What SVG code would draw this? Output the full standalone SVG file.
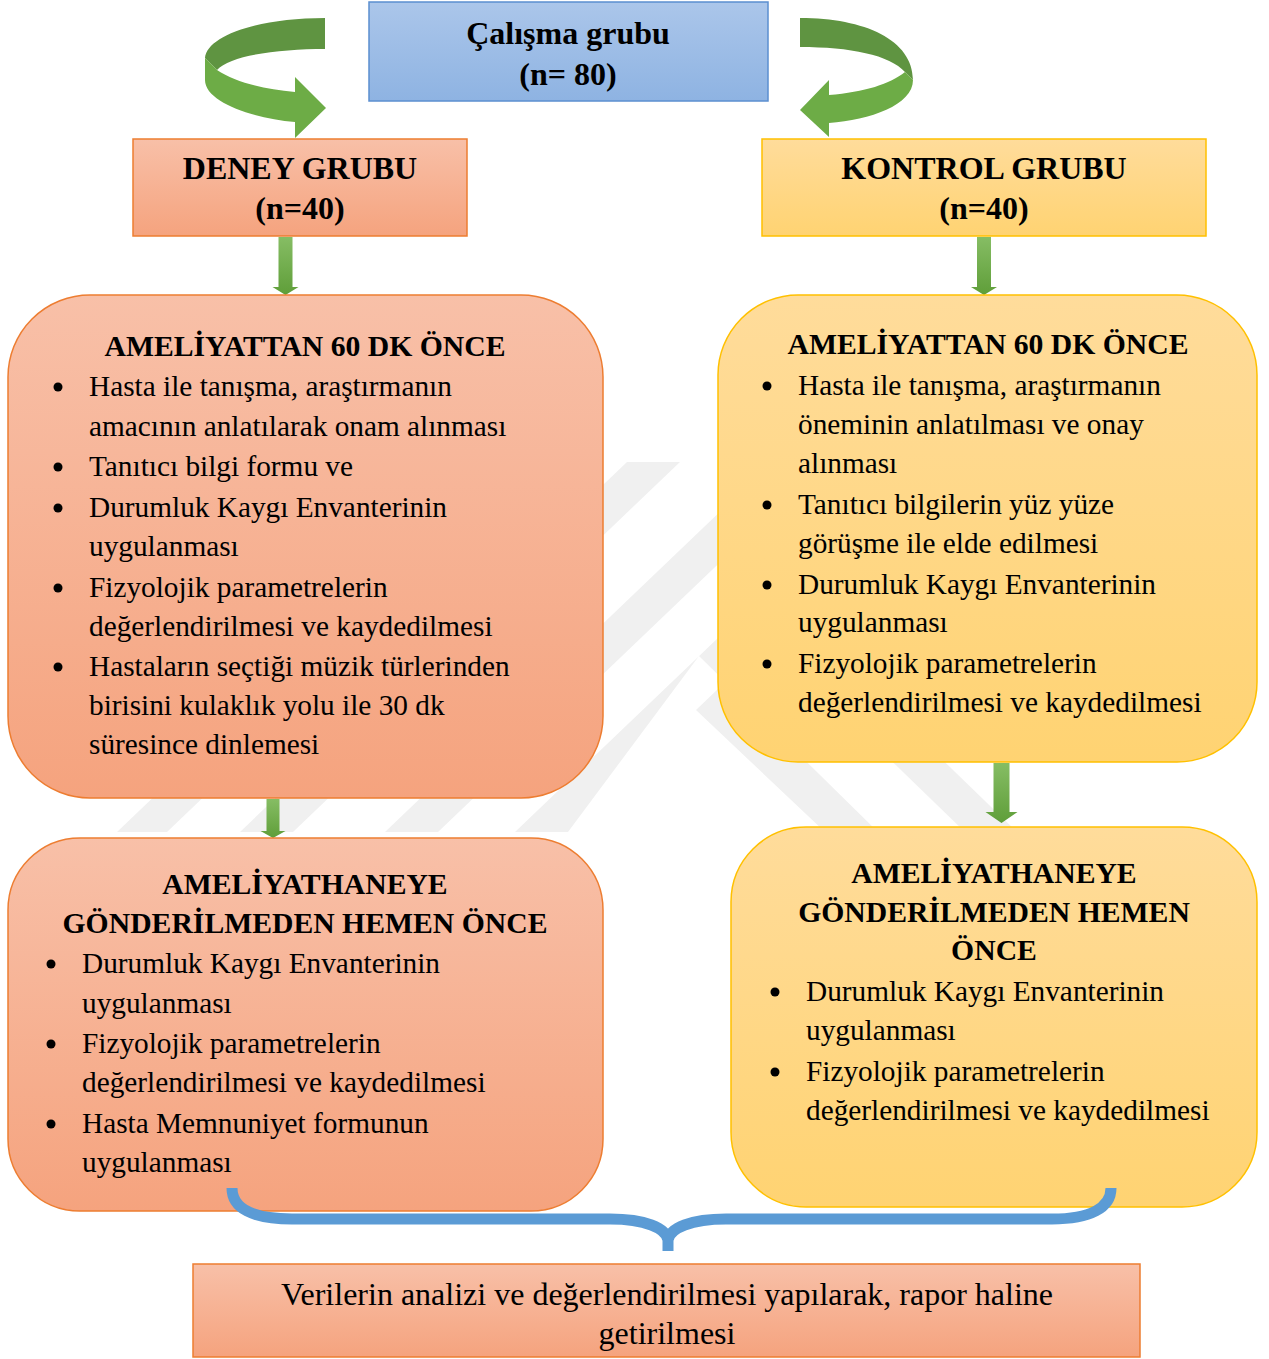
<svg xmlns="http://www.w3.org/2000/svg" width="1269" height="1359" viewBox="0 0 1269 1359">
<defs>
<linearGradient id="gSal" x1="0" y1="0" x2="0" y2="1"><stop offset="0" stop-color="#f8c0a8"/><stop offset="1" stop-color="#f5a37e"/></linearGradient>
<linearGradient id="gYel" x1="0" y1="0" x2="0" y2="1"><stop offset="0" stop-color="#ffdc9b"/><stop offset="1" stop-color="#ffd372"/></linearGradient>
<linearGradient id="gBlue" x1="0" y1="0" x2="0" y2="1"><stop offset="0" stop-color="#abc6ea"/><stop offset="1" stop-color="#8eb3e2"/></linearGradient>
<linearGradient id="gGreen" x1="0" y1="0" x2="0" y2="1"><stop offset="0" stop-color="#86bd64"/><stop offset="1" stop-color="#5f9e39"/></linearGradient>
<style>
.sal{fill:url(#gSal);stroke:#ed7d31;stroke-width:1.5}
.yel{fill:url(#gYel);stroke:#ffc000;stroke-width:1.5}
.blue{fill:url(#gBlue);stroke:#5b8fd0;stroke-width:1.5}
.t{font-family:"Liberation Serif","Times New Roman",serif;font-size:29.3px;fill:#000}
.h{font-family:"Liberation Serif","Times New Roman",serif;font-size:32px;font-weight:bold;fill:#000;text-anchor:middle}
.b{font-weight:bold;text-anchor:middle;font-size:29.7px}
.c{text-anchor:middle;font-size:32px}
.wm{fill:#f0f0f0}
.arr{fill:url(#gGreen)}
.dk{fill:#5f9441}
.lt{fill:#6dac46}
.brace{fill:none;stroke:#5b9bd5;stroke-width:11}
</style>
</defs>

<g id="watermark">
<polygon class="wm" points="504,462 554,462 167,832 117,832"/>
<polygon class="wm" points="627,462 680,462 293,832 240,832"/>
<polygon class="wm" points="772,462 825,462 438,832 385,832"/>
<polygon class="wm" points="902,462 955,462 696,710 825,832 878,832 699,656 568,832 515,832"/>
<polygon class="wm" points="870,740 922,740 1017,832 965,832"/>
</g>

<g id="top-arrows">
<path class="dk" d="M325,18 L325,49 C280,49 230,55 217,70 L205,58 C207,36 258,18 325,18 Z"/>
<path class="lt" d="M205,58 L217,70 C235,82 262,89 295,92 L295,77 L326,108 L295,138 L295,122 C252,118 205,102 205,80 Z"/>
<path class="dk" d="M800,18 C865,18 913,40 913,80 L905,72 C890,55 850,47 800,47 Z"/>
<path class="lt" d="M905,72 C890,84 865,92 829,95 L829,80 L800,110 L829,137 L829,123 C870,120 913,105 913,80 Z"/>
</g>

<g id="connectors">
<path class="arr" d="M278.5,237 H292.5 V287 H298.5 L285.5,295 L272.5,287 H278.5 Z"/>
<path class="arr" d="M977,237 H991 V287 H997 L984,295 L971,287 H977 Z"/>
<path class="arr" d="M266.5,799 H279.5 V831 H285.5 L273,838 L260.5,831 H266.5 Z"/>
<path class="arr" d="M993.5,763 H1009.5 V812 H1017.5 L1001.5,823 L985.5,812 H993.5 Z"/>
</g>

<g id="calisma">
<rect class="blue" x="369" y="2" width="399" height="99"/>
<text class="h" x="568" y="44">Çalışma grubu</text>
<text class="h" x="568" y="85">(n= 80)</text>
</g>

<g id="deney">
<rect class="sal" x="133" y="139" width="334" height="97"/>
<text class="h" x="300" y="179">DENEY GRUBU</text>
<text class="h" x="300" y="219">(n=40)</text>
</g>

<g id="kontrol">
<rect class="yel" x="762" y="139" width="444" height="97"/>
<text class="h" x="984" y="179">KONTROL GRUBU</text>
<text class="h" x="984" y="219">(n=40)</text>
</g>

<g id="deney-once">
<rect class="sal" x="8" y="295" width="595" height="503" rx="82" ry="82"/>
<text class="t b" x="305" y="356">AMELİYATTAN 60 DK ÖNCE</text>
<circle cx="58" cy="387" r="4.5"/><circle cx="58" cy="467" r="4.5"/><circle cx="58" cy="508" r="4.5"/><circle cx="58" cy="588" r="4.5"/><circle cx="58" cy="667" r="4.5"/>
<text class="t" x="89" y="396">Hasta ile tanışma, araştırmanın</text>
<text class="t" x="89" y="436">amacının anlatılarak onam alınması</text>
<text class="t" x="89" y="476">Tanıtıcı bilgi formu ve</text>
<text class="t" x="89" y="517">Durumluk Kaygı Envanterinin</text>
<text class="t" x="89" y="556">uygulanması</text>
<text class="t" x="89" y="597">Fizyolojik parametrelerin</text>
<text class="t" x="89" y="636">değerlendirilmesi ve kaydedilmesi</text>
<text class="t" x="89" y="676">Hastaların seçtiği müzik türlerinden</text>
<text class="t" x="89" y="715">birisini kulaklık yolu ile 30 dk</text>
<text class="t" x="89" y="754">süresince dinlemesi</text>
</g>

<g id="kontrol-once">
<rect class="yel" x="718" y="295" width="539" height="467" rx="80" ry="80"/>
<text class="t b" x="988" y="354">AMELİYATTAN 60 DK ÖNCE</text>
<circle cx="767" cy="386" r="4.5"/><circle cx="767" cy="505" r="4.5"/><circle cx="767" cy="585" r="4.5"/><circle cx="767" cy="664" r="4.5"/>
<text class="t" x="798" y="395">Hasta ile tanışma, araştırmanın</text>
<text class="t" x="798" y="434">öneminin anlatılması ve onay</text>
<text class="t" x="798" y="473">alınması</text>
<text class="t" x="798" y="514">Tanıtıcı bilgilerin yüz yüze</text>
<text class="t" x="798" y="553">görüşme ile elde edilmesi</text>
<text class="t" x="798" y="594">Durumluk Kaygı Envanterinin</text>
<text class="t" x="798" y="632">uygulanması</text>
<text class="t" x="798" y="673">Fizyolojik parametrelerin</text>
<text class="t" x="798" y="712">değerlendirilmesi ve kaydedilmesi</text>
</g>

<g id="deney-ameliyathane">
<rect class="sal" x="8" y="838" width="595" height="373" rx="72" ry="72"/>
<text class="t b" x="305" y="894">AMELİYATHANEYE</text>
<text class="t b" x="305" y="933">GÖNDERİLMEDEN HEMEN ÖNCE</text>
<circle cx="51" cy="964" r="4.5"/><circle cx="51" cy="1044" r="4.5"/><circle cx="51" cy="1124" r="4.5"/>
<text class="t" x="82" y="973">Durumluk Kaygı Envanterinin</text>
<text class="t" x="82" y="1013">uygulanması</text>
<text class="t" x="82" y="1053">Fizyolojik parametrelerin</text>
<text class="t" x="82" y="1092">değerlendirilmesi ve kaydedilmesi</text>
<text class="t" x="82" y="1133">Hasta Memnuniyet formunun</text>
<text class="t" x="82" y="1172">uygulanması</text>
</g>

<g id="kontrol-ameliyathane">
<rect class="yel" x="731" y="827" width="526" height="380" rx="75" ry="75"/>
<text class="t b" x="994" y="883">AMELİYATHANEYE</text>
<text class="t b" x="994" y="922">GÖNDERİLMEDEN HEMEN</text>
<text class="t b" x="994" y="960">ÖNCE</text>
<circle cx="775" cy="992" r="4.5"/><circle cx="775" cy="1072" r="4.5"/>
<text class="t" x="806" y="1001">Durumluk Kaygı Envanterinin</text>
<text class="t" x="806" y="1040">uygulanması</text>
<text class="t" x="806" y="1081">Fizyolojik parametrelerin</text>
<text class="t" x="806" y="1120">değerlendirilmesi ve kaydedilmesi</text>
</g>

<g id="brace-connector">
<path class="brace" d="M232,1188 C232,1208 252,1219 292,1219 L610,1219 C645,1219 666,1228 668,1240 L668,1251 M668,1240 C670,1228 691,1219 726,1219 L1052,1219 C1090,1219 1111,1208 1111,1188"/>
</g>

<g id="sonuc">
<rect class="sal" x="193" y="1264" width="947" height="93"/>
<text class="t c" x="667" y="1305">Verilerin analizi ve değerlendirilmesi yapılarak, rapor haline</text>
<text class="t c" x="667" y="1344">getirilmesi</text>
</g>
</svg>
